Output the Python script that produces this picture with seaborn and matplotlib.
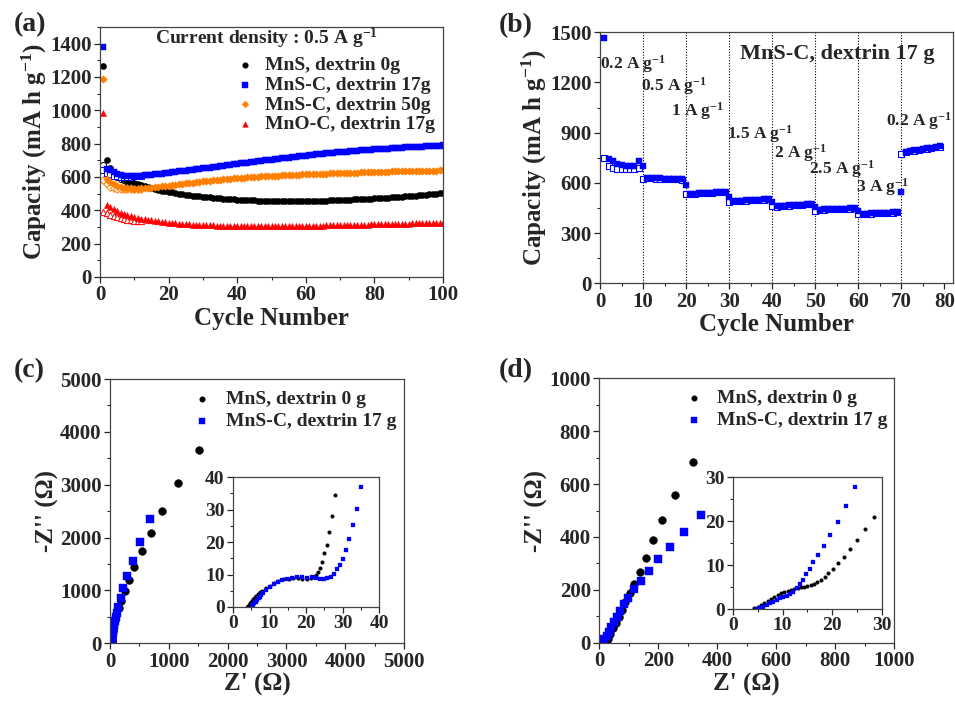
import matplotlib
matplotlib.use('Agg')
import numpy as np
import seaborn as sns
from matplotlib import pyplot as plt
from matplotlib.ticker import MultipleLocator

# ---- (a) cycling at 0.5 A/g, filled = discharge, hollow = charge ----
cycles_a = np.arange(1, 101)
mns_0g = [1265, 700, 655, 630, 612, 598, 588, 578, 570, 563, 556, 549, 543, 537, 532, 527, 522, 518, 514, 510,
          507, 504, 500, 497, 494, 491, 488, 486, 483, 481, 479, 477, 475, 473, 471, 469, 468, 466, 465, 464,
          463, 462, 461, 460, 459, 458, 458, 457, 457, 456, 456, 455, 455, 455, 455, 455, 455, 455, 455, 455,
          456, 456, 457, 457, 458, 458, 459, 460, 460, 461, 462, 463, 464, 465, 466, 467, 468, 469, 470, 471,
          472, 474, 475, 476, 478, 479, 481, 482, 484, 485, 487, 488, 490, 492, 494, 496, 498, 500, 502, 504]
mnsc_17g = [1380, 650, 640, 628, 618, 612, 608, 606, 605, 605, 606, 607, 609, 611, 613, 615, 618, 620, 623, 626,
            628, 631, 633, 636, 638, 641, 643, 646, 648, 651, 654, 656, 659, 662, 665, 668, 670, 673, 676, 679,
            681, 684, 686, 689, 691, 694, 696, 699, 701, 704, 706, 709, 711, 714, 716, 719, 721, 723, 726, 728,
            730, 732, 735, 737, 739, 741, 743, 745, 747, 749, 751, 752, 754, 756, 757, 759, 760, 762, 763, 765,
            766, 768, 769, 770, 772, 773, 774, 775, 777, 778, 779, 780, 781, 782, 783, 785, 786, 787, 788, 790]
mnsc_50g = [1190, 590, 568, 555, 546, 540, 536, 533, 531, 530, 530, 531, 532, 534, 536, 538, 540, 543, 545, 548,
            550, 553, 556, 558, 561, 563, 566, 568, 571, 573, 575, 577, 579, 581, 583, 585, 587, 589, 591, 593,
            594, 596, 597, 599, 600, 601, 603, 604, 605, 606, 607, 608, 609, 610, 611, 612, 613, 614, 615, 616,
            617, 617, 618, 619, 620, 620, 621, 622, 622, 623, 624, 624, 625, 626, 626, 627, 628, 628, 629, 630,
            630, 631, 632, 632, 633, 633, 634, 634, 635, 635, 636, 636, 637, 637, 637, 638, 638, 638, 639, 639]
mnoc_17g = [985, 430, 418, 405, 395, 386, 378, 371, 365, 360, 355, 350, 346, 342, 339, 336, 333, 330, 328, 326,
            324, 322, 320, 318, 317, 316, 314, 313, 312, 311, 310, 309, 309, 308, 308, 307, 307, 307, 306, 306,
            306, 306, 305, 305, 305, 305, 305, 305, 305, 305, 305, 305, 305, 305, 306, 306, 306, 306, 306, 307,
            307, 307, 308, 308, 308, 309, 309, 309, 310, 310, 311, 311, 312, 312, 313, 313, 314, 314, 315, 315,
            316, 316, 317, 317, 318, 318, 319, 319, 320, 320, 321, 321, 322, 322, 323, 323, 324, 324, 325, 325]
# charge capacities of the first cycles (later ones hide under the discharge points)
cycles_a_open = np.arange(1, 13)
mns_0g_open = [670, 650, 628, 610, 598, 588, 580, 572, 566, 560, 554, 548]
mnsc_17g_open = [640, 625, 615, 608, 603, 600, 600, 601, 602, 603, 605, 606]
mnsc_50g_open = [580, 555, 542, 535, 530, 527, 526, 526, 526, 527, 528, 529]
mnoc_17g_open = [388, 382, 374, 366, 359, 353, 348, 344, 341, 338, 336, 334]
labels_a = ['MnS, dextrin 0g', 'MnS-C, dextrin 17g', 'MnS-C, dextrin 50g', 'MnO-C, dextrin 17g']

# ---- (b) rate capability ----
cycles_b = np.arange(1, 80)
rate_fill = [1465, 745, 728, 715, 708, 703, 700, 700, 730, 702,
             630, 629, 628, 627, 626, 625, 624, 623, 622, 590,
             533, 535, 537, 539, 541, 542, 544, 545, 547, 518,
             490, 492, 494, 495, 497, 498, 500, 501, 503, 488,
             459, 461, 463, 465, 467, 469, 470, 472, 474, 456,
             440, 441, 442, 443, 444, 445, 446, 447, 448, 432,
             415, 416, 417, 418, 419, 420, 421, 423, 425, 545,
             785, 790, 795, 799, 803, 807, 811, 815, 819]
rate_open = [750, 700, 690, 685, 682, 680, 680, 680, 690, 625,
             628, 627, 626, 625, 624, 623, 622, 621, 620, 532,
             533, 535, 537, 539, 540, 542, 543, 545, 546, 484,
             489, 491, 493, 494, 496, 497, 499, 500, 501, 460,
             458, 460, 462, 464, 466, 468, 469, 471, 473, 432,
             438, 440, 441, 442, 443, 444, 445, 446, 447, 412,
             414, 415, 416, 417, 418, 419, 420, 422, 424, 772,
             783, 788, 793, 797, 801, 805, 809, 813, 817]
rate_bounds = [10, 20, 30, 40, 50, 60, 70]
rate_labels = ['0.2 A g$^{-1}$', '0.5 A g$^{-1}$', '1 A g$^{-1}$', '1.5 A g$^{-1}$',
               '2 A g$^{-1}$', '2.5 A g$^{-1}$', '3 A g$^{-1}$', '0.2 A g$^{-1}$']
rate_label_x = [0, 9.5, 16.5, 29.5, 40.5, 48.5, 59.5, 66.5]
rate_label_y = [1310, 1180, 1030, 890, 780, 680, 575, 970]

# ---- (c) Nyquist plots before cycling ----
c_mns_x = [1514, 1156, 890, 692, 539, 414, 323, 249, 193, 147, 110, 85, 68, 57, 50, 45, 41, 38, 35, 32, 30]
c_mns_y = [3662, 3030, 2511, 2095, 1748, 1436, 1199, 988, 807, 663, 535, 450, 390, 330, 280, 230, 180, 130, 90, 50, 20]
c_mnsc_x = [680, 510, 391, 295, 227, 181, 142, 113, 95, 82, 72, 64, 57, 51, 45, 40, 35, 31, 28, 25, 22]
c_mnsc_y = [2348, 1912, 1558, 1274, 1041, 852, 694, 567, 490, 430, 375, 325, 280, 235, 195, 155, 120, 85, 55, 30, 10]
ci_mns_x = [27.9, 27.0, 26.3, 25.7, 25.0, 24.5, 23.9, 23.4, 22.7, 22.3, 21.4, 20.2, 19.0, 17.7, 16.4, 15.2,
            13.8, 12.4, 11.2, 10.0, 8.9, 7.9, 7.4, 6.9, 6.4, 6.0, 5.6, 5.3, 5.0, 4.7, 4.3, 4.0, 3.8]
ci_mns_y = [34.4, 28.0, 23.1, 19.1, 16.5, 13.9, 12.1, 10.9, 9.8, 9.3, 8.8, 8.6, 8.7, 8.8, 8.9, 8.6,
            8.5, 8.1, 7.3, 6.6, 5.7, 5.0, 4.5, 4.0, 3.5, 3.0, 2.5, 1.9, 1.5, 1.1, 0.7, 0.3, 0.1]
ci_mnsc_x = [35.1, 33.9, 32.8, 31.9, 31.0, 30.0, 29.3, 28.5, 27.7, 26.8, 25.8, 24.8, 23.8, 22.6, 21.6, 20.2,
             18.8, 17.4, 16.1, 14.7, 13.3, 12.2, 11.1, 10.1, 9.1, 8.2, 7.8, 7.4, 7.0, 6.6, 6.2, 5.8, 5.5, 5.3]
ci_mnsc_y = [37.0, 30.3, 25.1, 20.8, 17.5, 14.9, 12.9, 11.6, 10.2, 9.3, 8.8, 8.7, 8.7, 8.9, 9.1, 9.0,
             9.1, 9.1, 8.8, 8.6, 8.3, 7.8, 7.1, 6.3, 5.2, 4.2, 3.7, 3.2, 2.7, 2.2, 1.6, 1.1, 0.6, 0.3]

# ---- (d) Nyquist plots after cycling ----
d_mns_x = [317, 258, 213, 182, 157, 137, 119, 103, 87, 76, 67, 57, 48, 38, 31, 23]
d_mns_y = [682, 560, 464, 387, 322, 268, 224, 187, 153, 124, 98, 76, 54, 33, 16, 4]
d_mnsc_x = [345, 288, 241, 199, 168, 142, 119, 99, 85, 70, 60, 50, 41, 33, 25, 17, 10]
d_mnsc_y = [483, 420, 363, 317, 272, 235, 202, 170, 145, 121, 98, 79, 61, 42, 25, 13, 3]
di_mns_x = [28.4, 26.6, 25.0, 23.6, 22.3, 21.2, 20.1, 19.2, 18.5, 17.8, 17.0, 16.4, 15.7, 15.0, 14.4,
            13.7, 13.0, 12.3, 11.7, 11.0, 10.3, 9.7, 9.0, 8.3, 7.7, 7.0, 6.3, 5.6, 5.0, 4.3]
di_mns_y = [20.9, 18.1, 15.8, 13.7, 11.9, 10.4, 9.2, 8.1, 7.3, 6.7, 6.1, 5.8, 5.5, 5.2, 5.1,
            4.9, 4.7, 4.5, 4.3, 4.2, 3.9, 3.6, 3.2, 2.8, 2.3, 1.9, 1.4, 1.0, 0.5, 0.2]
di_mnsc_x = [24.6, 22.7, 21.1, 19.5, 18.3, 17.2, 16.2, 15.5, 14.8, 14.1, 13.5, 12.8, 12.1, 11.5, 10.8,
             10.1, 9.5, 8.8, 8.1, 7.4, 6.8, 6.1, 5.4, 4.8]
di_mnsc_y = [27.7, 23.5, 19.8, 16.8, 14.4, 12.3, 10.6, 9.0, 7.9, 6.7, 5.7, 4.7, 3.9, 3.4, 3.0,
             2.7, 2.4, 2.0, 1.7, 1.3, 0.9, 0.5, 0.3, 0.1]
labels_eis = ['MnS, dextrin 0 g', 'MnS-C, dextrin 17 g']

BLUE = '#0000ff'
ORANGE = '#ff8000'
RED = '#ff0000'
BLACK = '#000000'

sns.set_style('ticks')
plt.rcParams['font.family'] = ['Liberation Serif', 'DejaVu Serif']
plt.rcParams['font.weight'] = 'bold'
plt.rcParams['axes.labelweight'] = 'bold'
plt.rcParams['mathtext.fontset'] = 'custom'
plt.rcParams['mathtext.rm'] = 'Liberation Serif:bold'
plt.rcParams['mathtext.default'] = 'regular'

TICK_FS = 15
LABEL_FS = 18


def style_axes(ax, major_x, minor_x, major_y, minor_y, fs=TICK_FS):
    ax.xaxis.set_major_locator(MultipleLocator(major_x))
    ax.xaxis.set_minor_locator(MultipleLocator(minor_x))
    ax.yaxis.set_major_locator(MultipleLocator(major_y))
    ax.yaxis.set_minor_locator(MultipleLocator(minor_y))
    ax.tick_params(which='major', direction='out', length=4, width=0.9, labelsize=fs, pad=2)
    ax.tick_params(which='minor', direction='out', length=2.5, width=0.8)
    for sp in ax.spines.values():
        sp.set_visible(True)
        sp.set_linewidth(0.9)
        sp.set_color('#444444')


def points(ax, x, y, marker, color, size, hollow=False, label=None, lw=0.8):
    sns.scatterplot(x=x, y=y, ax=ax, marker=marker, s=size,
                    color='white' if hollow else color,
                    edgecolor=color, linewidth=lw, label=label, legend=False)


fig = plt.figure(figsize=(9.55, 7.01), dpi=100)

# ---------------- (a) ----------------
ax_a = fig.add_axes([0.1047, 0.6049, 0.3592, 0.3566])
series_a = [(mns_0g, mns_0g_open, 'o', BLACK), (mnsc_17g, mnsc_17g_open, 's', BLUE),
            (mnsc_50g, mnsc_50g_open, 'D', ORANGE), (mnoc_17g, mnoc_17g_open, '^', RED)]
for (full, opn, mk, col), lab in zip(series_a, labels_a):
    sz = 15 if mk == 'D' else 20
    points(ax_a, cycles_a_open, opn, mk, col, sz, hollow=True, lw=0.7)
    points(ax_a, cycles_a, full, mk, col, sz, label=lab, lw=0.3)
ax_a.set_xlim(0, 100)
ax_a.set_ylim(0, 1500)
style_axes(ax_a, 20, 10, 200, 100)
ax_a.set_yticks(np.arange(0, 1401, 200))
ax_a.set_xlabel('Cycle Number', fontsize=LABEL_FS, labelpad=1)
ax_a.set_ylabel('Capacity (mA h g$^{-1}$)', fontsize=LABEL_FS, labelpad=1)
ax_a.text(0.484, 0.955, 'Current density : 0.5 A g$^{-1}$', transform=ax_a.transAxes,
          ha='center', va='center', fontsize=14)
ax_a.legend(loc='upper right', bbox_to_anchor=(1.015, 0.935), frameon=False, fontsize=14,
            handletextpad=0.2, labelspacing=0.1, borderpad=0.2, markerscale=0.9,
            handlelength=1.6)

# ---------------- (b) ----------------
ax_b = fig.add_axes([0.6283, 0.5959, 0.3696, 0.3581])
for xb in rate_bounds:
    ax_b.axvline(xb, color='black', linestyle=(0, (1, 1.5)), linewidth=0.8, zorder=0)
points(ax_b, cycles_b, rate_open, 's', BLUE, 22, hollow=True, lw=0.8)
points(ax_b, cycles_b, rate_fill, 's', BLUE, 22, lw=0.3)
ax_b.set_xlim(0, 82)
ax_b.set_ylim(0, 1500)
style_axes(ax_b, 10, 5, 300, 150)
ax_b.set_xticks(np.arange(0, 81, 10))
ax_b.set_xlabel('Cycle Number', fontsize=LABEL_FS, labelpad=1)
ax_b.set_ylabel('Capacity (mA h g$^{-1}$)', fontsize=LABEL_FS, labelpad=1)
for tx, ty, tl in zip(rate_label_x, rate_label_y, rate_labels):
    ax_b.text(tx, ty, tl, ha='left', va='center', fontsize=12.5)
ax_b.text(0.949, 0.915, 'MnS-C, dextrin 17 g', transform=ax_b.transAxes,
          ha='right', va='center', fontsize=16)

# ---------------- (c) ----------------
ax_c = fig.add_axes([0.1152, 0.0823, 0.3079, 0.377])
points(ax_c, c_mns_x, c_mns_y, 'o', BLACK, 32, label=labels_eis[0], lw=0.3)
points(ax_c, c_mnsc_x, c_mnsc_y, 's', BLUE, 30, label=labels_eis[1], lw=0.3)
ax_c.set_xlim(0, 5000)
ax_c.set_ylim(0, 5000)
style_axes(ax_c, 1000, 500, 1000, 500)
ax_c.set_xlabel("Z' (Ω)", fontsize=LABEL_FS, labelpad=1)
ax_c.set_ylabel("-Z'' (Ω)", fontsize=LABEL_FS, labelpad=1)
ax_c.legend(loc='upper right', bbox_to_anchor=(1.02, 1.01), frameon=False, fontsize=14,
            handletextpad=0.4, labelspacing=0.25, borderpad=0.2, markerscale=0.7,
            handlelength=1.6)

ax_ci = fig.add_axes([0.244, 0.1341, 0.1529, 0.1854])
points(ax_ci, ci_mns_x, ci_mns_y, 'o', BLACK, 7, lw=0.2)
points(ax_ci, ci_mnsc_x, ci_mnsc_y, 's', BLUE, 7, lw=0.2)
ax_ci.set_xlim(0, 40)
ax_ci.set_ylim(0, 40)
style_axes(ax_ci, 10, 5, 10, 5, fs=14)
ax_ci.set_xlabel('')
ax_ci.set_ylabel('')

# ---------------- (d) ----------------
ax_d = fig.add_axes([0.6275, 0.0831, 0.3086, 0.3772])
points(ax_d, d_mns_x, d_mns_y, 'o', BLACK, 32, label=labels_eis[0], lw=0.3)
points(ax_d, d_mnsc_x, d_mnsc_y, 's', BLUE, 30, label=labels_eis[1], lw=0.3)
ax_d.set_xlim(0, 1000)
ax_d.set_ylim(0, 1000)
style_axes(ax_d, 200, 100, 200, 100)
ax_d.set_xlabel("Z' (Ω)", fontsize=LABEL_FS, labelpad=1)
ax_d.set_ylabel("-Z'' (Ω)", fontsize=LABEL_FS, labelpad=1)
ax_d.legend(loc='upper right', bbox_to_anchor=(1.025, 1.01), frameon=False, fontsize=14,
            handletextpad=0.4, labelspacing=0.25, borderpad=0.2, markerscale=0.7,
            handlelength=1.6)

ax_di = fig.add_axes([0.7675, 0.1312, 0.156, 0.1883])
points(ax_di, di_mns_x, di_mns_y, 'o', BLACK, 7, lw=0.2)
points(ax_di, di_mnsc_x, di_mnsc_y, 's', BLUE, 7, lw=0.2)
ax_di.set_xlim(0, 30)
ax_di.set_ylim(0, 30)
style_axes(ax_di, 10, 5, 10, 5, fs=14)
ax_di.set_xlabel('')
ax_di.set_ylabel('')

# panel letters
for lx, ly, lt in [(0.014, 0.965, '(a)'), (0.522, 0.963, '(b)'), (0.014, 0.472, '(c)'), (0.522, 0.472, '(d)')]:
    fig.text(lx, ly, lt, fontsize=20, ha='left', va='center')

fig.savefig('out.png', dpi=100)
